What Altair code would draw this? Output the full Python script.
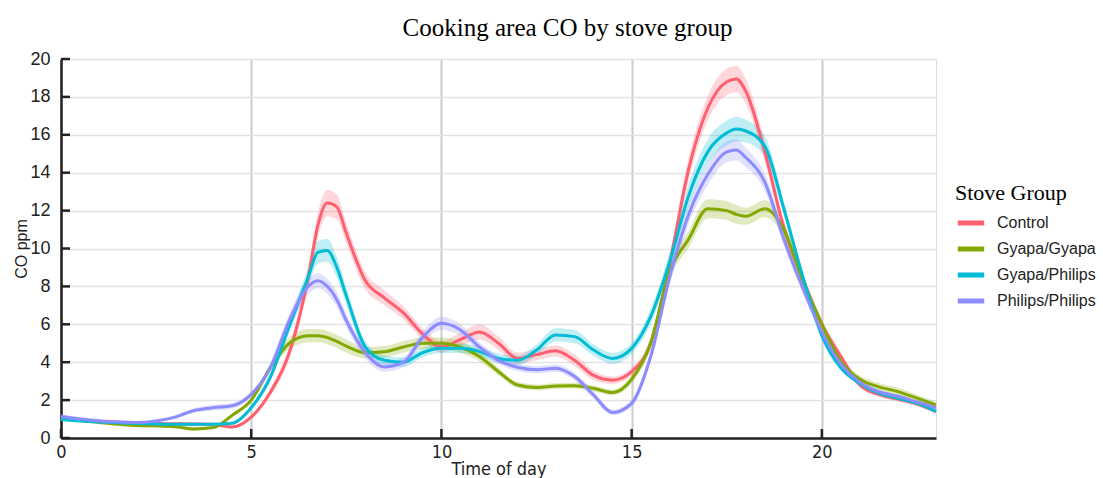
import altair as alt
import pandas as pd

times = [0, 0.5, 1, 1.5, 2, 2.5, 3, 3.5, 4, 4.5, 5, 5.5, 6, 6.5, 6.75, 7, 7.25, 7.5, 8, 8.5,
         9, 9.5, 10, 10.5, 11, 11.5, 12, 12.5, 13, 13.5, 14, 14.5, 15, 15.5, 16, 16.5, 17, 17.5, 17.75, 18,
         18.5, 19, 19.5, 20, 20.5, 21, 21.5, 22, 22.5, 23]

groups = ["Control", "Gyapa/Gyapa", "Gyapa/Philips", "Philips/Philips"]
colors = ["#FF5F6E", "#83A800", "#00BCD4", "#8C8CFF"]

control = [1.05, 0.95, 0.88, 0.82, 0.78, 0.76, 0.75, 0.74, 0.72, 0.58, 1.1, 2.4, 4.5, 8.5, 11.2, 12.4, 12.2, 10.8, 8.3, 7.4,
           6.6, 5.5, 4.8, 5.2, 5.6, 5.0, 4.2, 4.4, 4.6, 4.1, 3.3, 3.05, 3.5, 5.0, 9.2, 14.2, 17.4, 18.8, 18.95, 18.3,
           15.1, 11.1, 8.4, 6.0, 4.3, 2.8, 2.3, 2.05, 1.8, 1.4]
control_err = [0.08] * 10 + [0.1, 0.2, 0.35, 0.55, 0.65, 0.7, 0.65, 0.55, 0.45, 0.4,
               0.35, 0.3, 0.3, 0.35, 0.4, 0.35, 0.3, 0.3, 0.3, 0.3, 0.25, 0.2, 0.2, 0.3, 0.45, 0.6, 0.65, 0.7, 0.7, 0.65,
               0.55, 0.4, 0.3, 0.25, 0.2, 0.15, 0.12, 0.12, 0.12, 0.12]

gyapa = [1.05, 0.92, 0.82, 0.72, 0.66, 0.64, 0.6, 0.48, 0.55, 1.2, 2.0, 3.7, 5.0, 5.4, 5.4, 5.3, 5.1, 4.85, 4.5, 4.55,
         4.8, 5.0, 5.0, 4.8, 4.3, 3.5, 2.8, 2.67, 2.74, 2.76, 2.62, 2.4, 3.1, 5.0, 8.8, 10.5, 12.1, 12.0, 11.8, 11.7,
         12.1, 11.0, 8.3, 6.0, 4.05, 3.1, 2.7, 2.45, 2.1, 1.75]
gyapa_err = [0.08] * 10 + [0.12, 0.2, 0.3, 0.35, 0.35, 0.35, 0.35, 0.35, 0.3, 0.3,
             0.3, 0.3, 0.3, 0.3, 0.25, 0.2, 0.15, 0.15, 0.15, 0.15, 0.15, 0.15, 0.2, 0.3, 0.4, 0.45, 0.5, 0.5, 0.5, 0.45,
             0.45, 0.4, 0.3, 0.25, 0.2, 0.2, 0.2, 0.2, 0.18, 0.15]

gyapa_philips = [0.98, 0.9, 0.84, 0.8, 0.76, 0.74, 0.72, 0.72, 0.72, 0.78, 1.6, 3.2, 5.9, 8.5, 9.8, 9.9, 9.0, 7.5, 4.8, 4.1,
                 4.0, 4.5, 4.73, 4.73, 4.56, 4.2, 4.1, 4.64, 5.44, 5.35, 4.64, 4.2, 4.73, 6.4, 9.3, 12.8, 15.1, 16.1, 16.3, 16.2,
                 15.4, 12.1, 8.5, 5.4, 3.7, 2.88, 2.36, 2.1, 1.83, 1.4]
gyapa_philips_err = [0.06] * 10 + [0.1, 0.2, 0.35, 0.5, 0.6, 0.6, 0.55, 0.45, 0.3, 0.25,
                     0.25, 0.25, 0.25, 0.25, 0.25, 0.25, 0.25, 0.3, 0.35, 0.35, 0.3, 0.3, 0.3, 0.4, 0.5, 0.6, 0.65, 0.65, 0.65, 0.6,
                     0.55, 0.4, 0.3, 0.2, 0.15, 0.12, 0.1, 0.1, 0.1, 0.1]

philips = [1.15, 1.0, 0.9, 0.85, 0.82, 0.9, 1.1, 1.45, 1.6, 1.7, 2.3, 3.7, 6.2, 8.0, 8.3, 8.0, 7.3, 6.2, 4.5, 3.75,
           4.0, 5.3, 6.05, 5.7, 4.8, 4.1, 3.73, 3.6, 3.68, 3.24, 2.27, 1.35, 1.83, 4.3, 8.5, 11.8, 13.9, 15.1, 15.2, 14.8,
           13.5, 10.5, 7.9, 5.6, 3.9, 2.95, 2.44, 2.2, 1.9, 1.6]
philips_err = [0.1, 0.1, 0.1, 0.1, 0.08, 0.08, 0.1, 0.12, 0.15, 0.15, 0.15, 0.25, 0.35, 0.4, 0.4, 0.4, 0.4, 0.35, 0.3, 0.25,
               0.25, 0.3, 0.35, 0.3, 0.25, 0.2, 0.2, 0.2, 0.2, 0.2, 0.2, 0.15, 0.2, 0.3, 0.45, 0.5, 0.55, 0.55, 0.55, 0.5,
               0.45, 0.35, 0.25, 0.2, 0.15, 0.12, 0.1, 0.1, 0.1, 0.1]

x_ticks = [0, 5, 10, 15, 20]
y_ticks = [0, 2, 4, 6, 8, 10, 12, 14, 16, 18, 20]

series = [control, gyapa, gyapa_philips, philips]
errors = [control_err, gyapa_err, gyapa_philips_err, philips_err]
rows = []
for g, vals, errs in zip(groups, series, errors):
    for t, v, e in zip(times, vals, errs):
        rows.append({"t": t, "co": v, "lo": v - e, "hi": v + e, "group": g})
df = pd.DataFrame(rows)

W, H = 875, 379
xs = alt.Scale(domain=[0, 23], nice=False, zero=False)
ys = alt.Scale(domain=[0, 20], nice=False)

narrow = "Liberation Sans Narrow, DejaVu Sans Condensed, Roboto Condensed, sans-serif"
x_axis = alt.Axis(values=x_ticks, title="Time of day", grid=True, gridColor="#cccccc", gridWidth=2,
                  domainColor="#222222", domainWidth=2.5, tickSize=0, labelPadding=5, labelFlush=False,
                  labelFont=narrow, labelFontSize=18, labelColor="#222222", titleFont=narrow,
                  titleFontSize=18, titleFontWeight="normal", titleColor="#222222", titlePadding=-1)
y_axis = alt.Axis(values=y_ticks, title="CO ppm", grid=True, gridColor="#e3e3e3", gridWidth=1.5,
                  domainColor="#222222", domainWidth=2.5, tickSize=0, labelPadding=11, labelFlush=False,
                  labelFont="Liberation Sans", labelFontSize=18, labelColor="#222222",
                  titleFont="Liberation Sans", titleFontSize=16, titleFontWeight="normal", titleColor="#222222",
                  titlePadding=0)

legend = alt.Legend(title="Stove Group", orient="none", legendX=894, legendY=124,
                    symbolType="stroke", symbolSize=700, symbolStrokeWidth=5, symbolOpacity=1,
                    titleFont="Liberation Serif", titleFontSize=22, titleFontWeight="normal",
                    titleColor="black", titlePadding=2, labelFont="Liberation Sans",
                    labelFontSize=16, labelColor="#222222", labelOffset=10, rowPadding=0)
color_enc = alt.Color("group:N", scale=alt.Scale(domain=groups, range=colors), legend=legend)

bands = alt.Chart(df).mark_area(opacity=0.25, interpolate="monotone").encode(
    x=alt.X("t:Q", scale=xs, axis=x_axis),
    y=alt.Y("lo:Q", scale=ys, axis=y_axis),
    y2="hi:Q",
    color=color_enc,
)

lines = alt.Chart(df).mark_line(strokeWidth=3, interpolate="monotone").encode(
    x=alt.X("t:Q", scale=xs, axis=x_axis),
    y=alt.Y("co:Q", scale=ys, axis=y_axis),
    color=color_enc,
)

ytick_marks = alt.Chart(pd.DataFrame({"v": y_ticks})).mark_rule(
    color="#222222", strokeWidth=2.5).encode(
    y=alt.Y("v:Q", scale=ys, axis=y_axis),
    x=alt.value(0), x2=alt.value(9),
)
xtick_marks = alt.Chart(pd.DataFrame({"v": x_ticks})).mark_rule(
    color="#222222", strokeWidth=2.5).encode(
    x=alt.X("v:Q", scale=xs, axis=x_axis),
    y=alt.value(H), y2=alt.value(H - 9),
)

chart = alt.layer(bands, lines, ytick_marks, xtick_marks).properties(
    width=W, height=H,
    title=alt.Title("Cooking area CO by stove group", font="Liberation Serif", fontSize=25,
                    fontWeight="normal", color="black", anchor="middle", dx=69, offset=9),
    autosize=alt.AutoSizeParams(type="none"),
    padding={"left": 61, "top": 59, "right": 167, "bottom": 40},
).configure_view(stroke=None).configure(background="white")

chart.save("out.html", embed_options={"renderer": "svg", "actions": False})
